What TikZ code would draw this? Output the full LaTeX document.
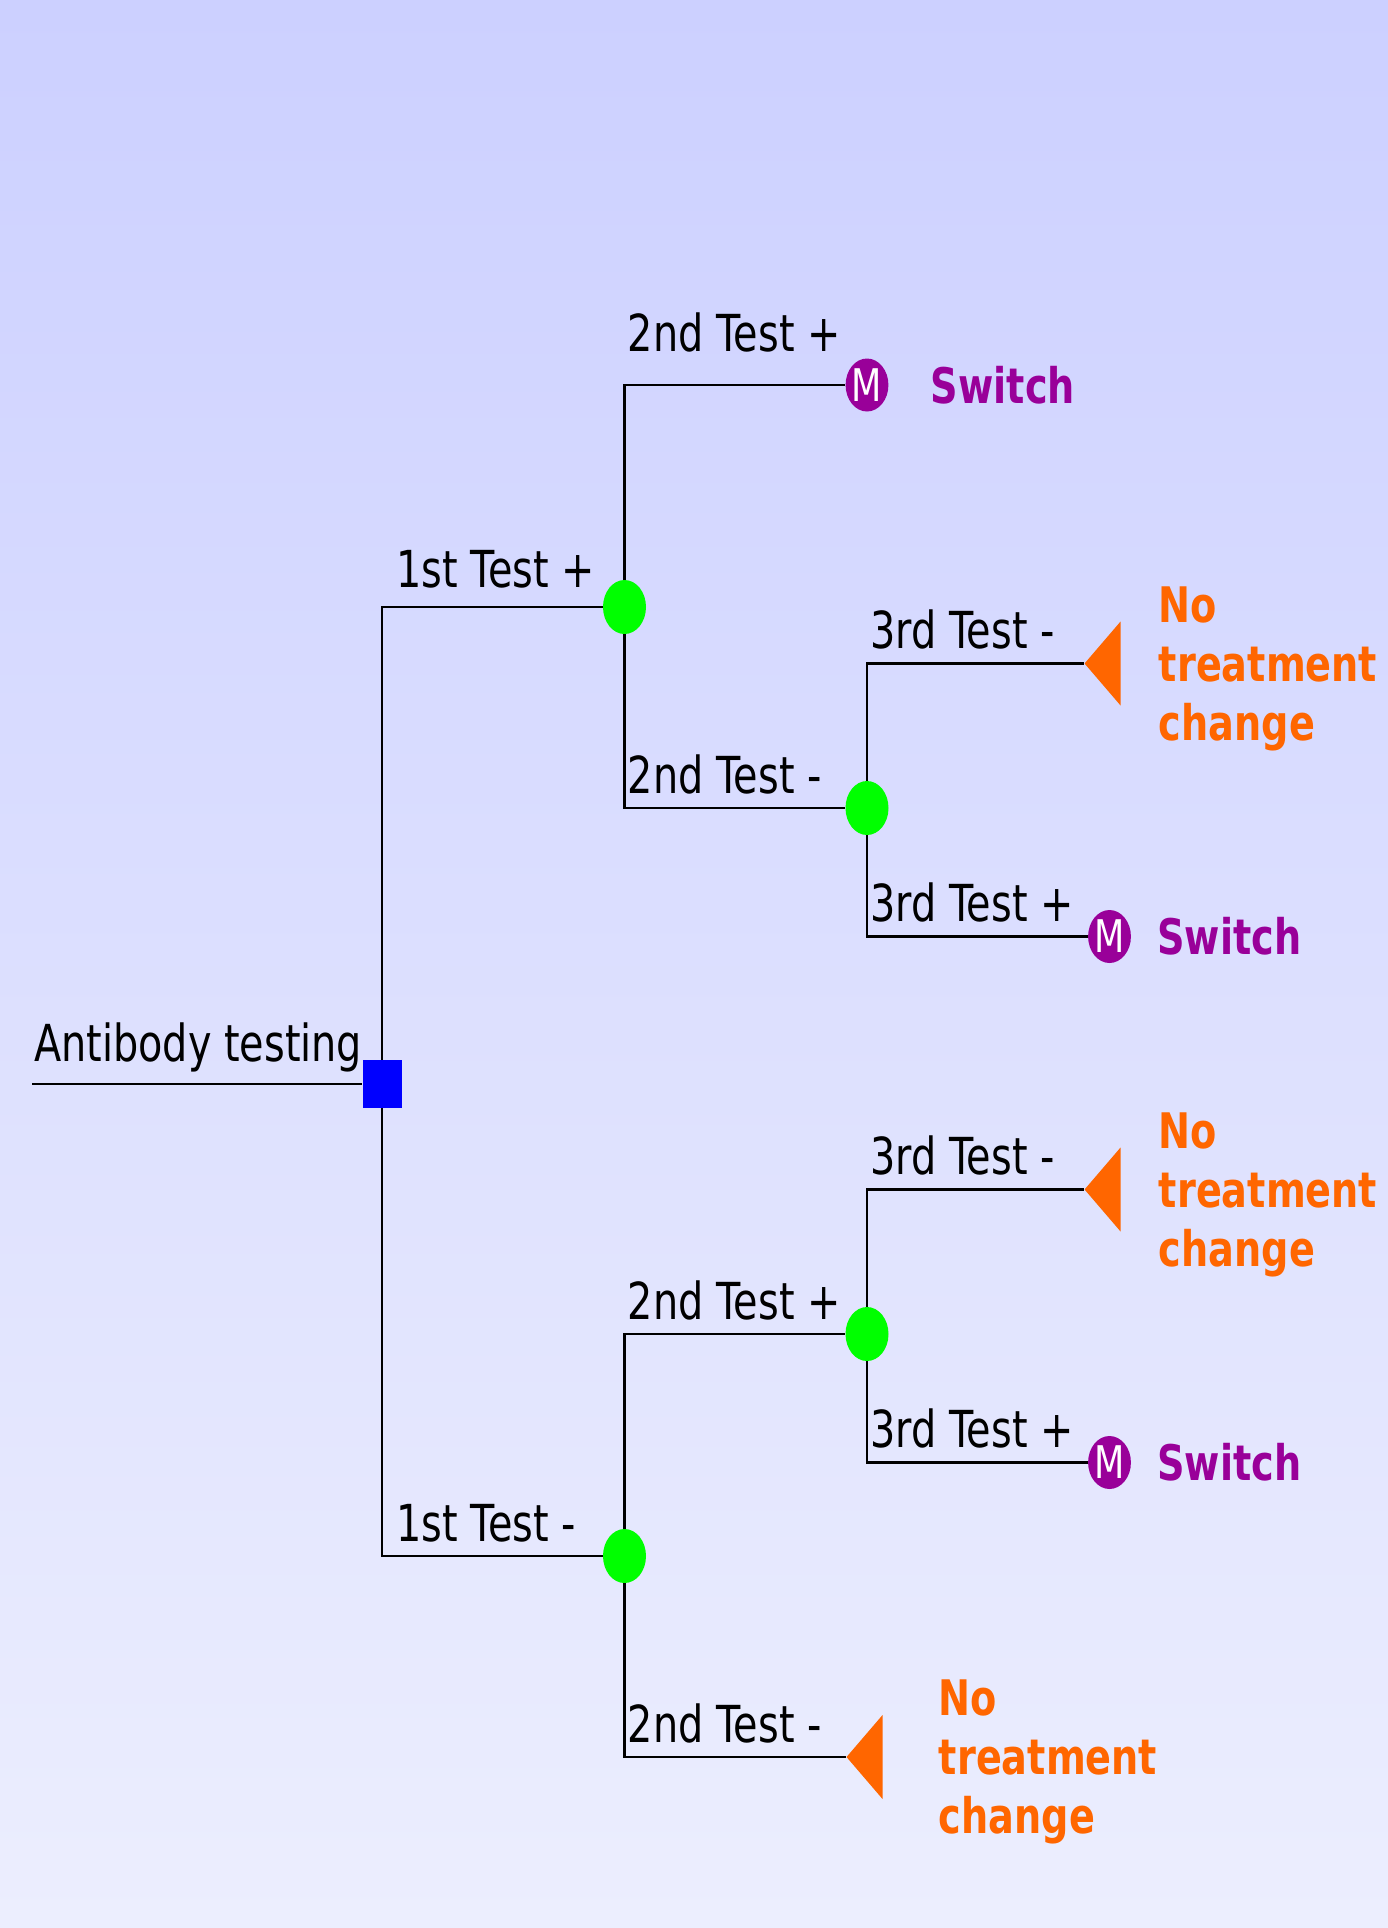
\documentclass[tikz,border=0pt]{standalone}
\usepackage{fontspec}
\setmainfont{DejaVu Sans}[FakeStretch=0.78]
\newfontfamily\outcomefont{DejaVu Sans}[FakeStretch=0.78]
\usetikzlibrary{shapes.geometric, trees}

\definecolor{chancegreen}{HTML}{00FF00}
\definecolor{decisionblue}{HTML}{0000FF}
\definecolor{switchpurple}{HTML}{990099}
\definecolor{keeporange}{HTML}{FF6600}
\definecolor{skytop}{HTML}{CCD0FF}
\definecolor{skybottom}{HTML}{ECEEFE}

\tikzset{
  decision/.style={rectangle, fill=decisionblue, minimum width=39pt, minimum height=48pt, inner sep=0pt},
  chance/.style={ellipse, fill=chancegreen, minimum width=43pt, minimum height=54pt, inner sep=0pt},
  outcome/.style={font=\outcomefont\bfseries\fontsize{49pt}{59pt}\selectfont, inner sep=0pt},
  switch/.style={ellipse, fill=switchpurple, minimum width=42pt, minimum height=53pt, inner sep=0pt,
    text=white, font=\fontsize{45pt}{45pt}\selectfont,
    label={[outcome, text=switchpurple, xshift=#1]right:Switch}},
  switch/.default=26pt,
  nochange/.style={isosceles triangle, shape border rotate=180, isosceles triangle stretches,
    fill=keeporange, minimum width=84pt, minimum height=36pt, inner sep=0pt,
    label={[outcome, text=keeporange, align=left, xshift=#1, yshift=-5pt]right:{No\\treatment\\change}}},
  nochange/.default=38pt,
  branch/.style={font=\fontsize{51pt}{60pt}\selectfont, anchor=base west, inner sep=0pt,
    xshift=2pt, yshift=15pt},
  testlabel/.style={branch, pos=.5},
}

\begin{document}
\begin{tikzpicture}[x=1pt, y=1pt,
  level 1/.style={grow via three points={one child at (242.5,0) and
    two children at (242.5,477) and (242.5,-472)}},
  level 2/.style={grow via three points={one child at (242.5,0) and
    two children at (242.5,222) and (242.5,-201)}},
  level 3/.style={grow via three points={one child at (242.5,0) and
    two children at (238,144.5) and (242.5,-128.5)}},
  edge from parent/.style={draw, line width=2.8pt},
  edge from parent path={(\tikzparentnode) |- (\tikzchildnode)}]
\shade[top color=skytop, bottom color=skybottom] (0,0) rectangle (1388,-1928);
\useasboundingbox (0,0) rectangle (1388,-1928);
\coordinate (start) at (32,-1084);
\node[decision] (test) at (382,-1084) {}
    child {node[chance] (pos1) {}
        child {node[switch=42pt] (sw1) {M}
            edge from parent node[testlabel, yshift=19pt] {2nd Test +}}
        child {node[chance] (neg2) {}
            child {node[nochange] (keep1) {}
                edge from parent node[testlabel] {3rd Test -}}
            child {node[switch] (sw2) {M}
                edge from parent node[testlabel] {3rd Test +}}
            edge from parent node[testlabel] {2nd Test -}}
        edge from parent node[testlabel, xshift=11pt, yshift=5pt] {1st Test +}}
    child {node[chance] (neg1) {}
        child {node[chance] (pos2) {}
            child {node[nochange] (keep2) {}
                edge from parent node[testlabel] {3rd Test -}}
            child {node[switch] (sw3) {M}
                edge from parent node[testlabel] {3rd Test +}}
            edge from parent node[testlabel] {2nd Test +}}
        child {node[nochange=56pt] (keep3) {}
            edge from parent node[testlabel] {2nd Test -}}
        edge from parent node[testlabel, xshift=11pt] {1st Test -}};
\draw[line width=2.8pt] (start) -- (test);
\node[branch, yshift=8pt] (title) at (start) {Antibody testing};
\end{tikzpicture}
\end{document}
